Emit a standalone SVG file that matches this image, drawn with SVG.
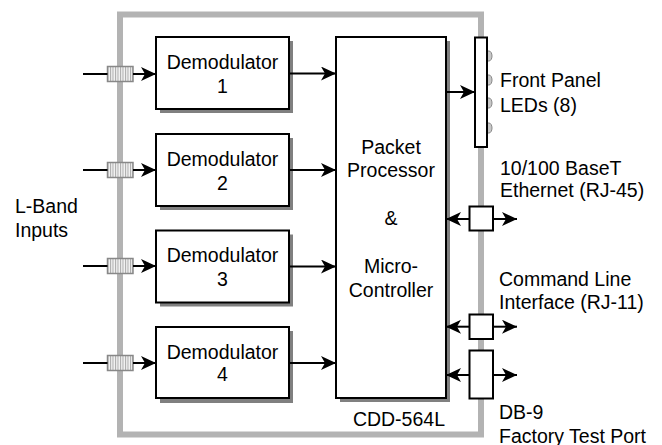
<svg xmlns="http://www.w3.org/2000/svg" width="662" height="445" viewBox="0 0 662 445">
<style>
text{font-family:"Liberation Sans",Arial,sans-serif;font-size:19.5px;fill:#000}
.c{text-anchor:middle}
.box{fill:#fff;stroke:#000;stroke-width:2}
.sh{fill:#808080}
.ln{stroke:#000;stroke-width:2;fill:none}
.rf{fill:url(#stripes);stroke:#888;stroke-width:1.5}
.led{fill:#c8c8c8;stroke:#888;stroke-width:1}
</style>
<defs>
<pattern id="stripes" patternUnits="userSpaceOnUse" width="2.5" height="4">
<rect width="2.5" height="4" fill="#f2f2f2"/>
<rect width="1" height="4" fill="#aaa"/>
</pattern>
<marker id="ah" markerUnits="userSpaceOnUse" markerWidth="16" markerHeight="15" refX="15" refY="7" orient="auto">
<path d="M0,0 L15,7 L0,14 L4,7 z" fill="#000"/>
</marker>
</defs>
<rect x="120" y="14.5" width="361" height="420" fill="none" stroke="#b3b3b3" stroke-width="6"/>
<g id="demod1"><rect class="sh" x="160" y="41" width="133" height="72"/><rect class="box" x="156" y="37" width="133" height="72"/><text class="c" x="222.5" y="69">Demodulator</text><text class="c" x="222.5" y="92.5">1</text></g>
<g id="demod2"><rect class="sh" x="160" y="138" width="133" height="72"/><rect class="box" x="156" y="134" width="133" height="72"/><text class="c" x="222.5" y="166">Demodulator</text><text class="c" x="222.5" y="189.5">2</text></g>
<g id="demod3"><rect class="sh" x="160" y="234.5" width="133" height="72"/><rect class="box" x="156" y="230.5" width="133" height="72"/><text class="c" x="222.5" y="262.3">Demodulator</text><text class="c" x="222.5" y="285.7">3</text></g>
<g id="demod4"><rect class="sh" x="160" y="331" width="133" height="72"/><rect class="box" x="156" y="327" width="133" height="71"/><text class="c" x="222.5" y="358.5">Demodulator</text><text class="c" x="222.5" y="381">4</text></g>
<g id="packet"><rect class="sh" x="340" y="41" width="110" height="361"/><rect class="box" x="336" y="37" width="110" height="361"/><text class="c" x="391" y="153.5">Packet</text><text class="c" x="391" y="177.3">Processor</text><text class="c" x="391" y="225">&amp;</text><text class="c" x="391" y="272.8">Micro-</text><text class="c" x="391" y="296.5">Controller</text><text x="445" y="425.5" style="text-anchor:end">CDD-564L</text></g>
<g id="leds"><path class="led" d="M487,51 h2 a3,5 0 0 1 0,10 h-2 z"/><path class="led" d="M487,75 h2 a3,5 0 0 1 0,10 h-2 z"/><path class="led" d="M487,98 h2 a3,5 0 0 1 0,10 h-2 z"/><path class="led" d="M487,123 h2 a3,5 0 0 1 0,10 h-2 z"/><rect class="box" x="475" y="37.5" width="12" height="109.5"/><text x="500" y="87.3">Front Panel</text><text x="500" y="111.7">LEDs (8)</text></g>
<g id="inputs"><rect class="rf" x="107.5" y="66.5" width="25.5" height="15"/><rect class="rf" x="107.5" y="162.5" width="25.5" height="15"/><rect class="rf" x="107.5" y="258.5" width="25.5" height="15"/><rect class="rf" x="107.5" y="355.5" width="25.5" height="15"/><text x="15" y="213.3">L-Band</text><text x="15" y="236.7">Inputs</text></g>
<g id="connectors">
<line class="ln" x1="83" y1="74" x2="107.5" y2="74"/><line class="ln" x1="133" y1="74" x2="156" y2="74" marker-end="url(#ah)"/>
<line class="ln" x1="83" y1="170" x2="107.5" y2="170"/><line class="ln" x1="133" y1="170" x2="156" y2="170" marker-end="url(#ah)"/>
<line class="ln" x1="83" y1="266" x2="107.5" y2="266"/><line class="ln" x1="133" y1="266" x2="156" y2="266" marker-end="url(#ah)"/>
<line class="ln" x1="83" y1="363" x2="107.5" y2="363"/><line class="ln" x1="133" y1="363" x2="156" y2="363" marker-end="url(#ah)"/>
<line class="ln" x1="289" y1="73.5" x2="336" y2="73.5" marker-end="url(#ah)"/>
<line class="ln" x1="289" y1="170" x2="336" y2="170" marker-end="url(#ah)"/>
<line class="ln" x1="289" y1="266.5" x2="336" y2="266.5" marker-end="url(#ah)"/>
<line class="ln" x1="289" y1="363" x2="336" y2="363" marker-end="url(#ah)"/>
<line class="ln" x1="446" y1="92" x2="475" y2="92" marker-end="url(#ah)"/>
<line class="ln" x1="469" y1="219" x2="446" y2="219" marker-end="url(#ah)"/><line class="ln" x1="493" y1="219" x2="517" y2="219" marker-end="url(#ah)"/>
<line class="ln" x1="469" y1="326.7" x2="446" y2="326.7" marker-end="url(#ah)"/><line class="ln" x1="493" y1="326.7" x2="517" y2="326.7" marker-end="url(#ah)"/>
<line class="ln" x1="469" y1="375" x2="446" y2="375" marker-end="url(#ah)"/><line class="ln" x1="493" y1="375" x2="517" y2="375" marker-end="url(#ah)"/>
</g>
<g id="eth"><rect class="box" x="469.5" y="206.5" width="23.5" height="24"/><text x="500" y="175">10/100 BaseT</text><text x="500" y="197">Ethernet (RJ-45)</text></g>
<g id="cli"><rect class="box" x="469.5" y="314.5" width="23.5" height="24.5"/><text x="499" y="286">Command Line</text><text x="499" y="309.3">Interface (RJ-11)</text></g>
<g id="db9"><rect class="box" x="469.5" y="350.5" width="23.5" height="48"/><text x="499" y="419.3">DB-9</text><text x="499" y="442.5">Factory Test Port</text></g>
</svg>
